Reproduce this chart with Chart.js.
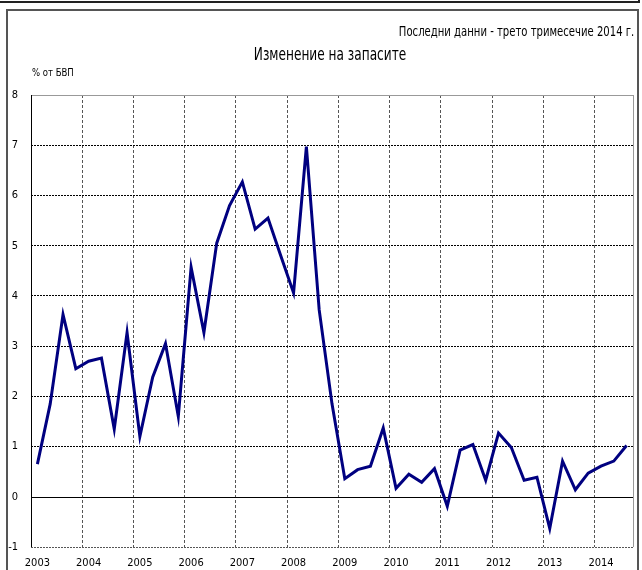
<!DOCTYPE html>
<html lang="bg">
<head>
<meta charset="UTF-8">
<title>Изменение на запасите</title>
<script src="https://cdn.jsdelivr.net/npm/chart.js"></script>
<style>
  body { margin: 0; background: #fff; font-family: "Liberation Sans Narrow", "DejaVu Sans Condensed", sans-serif; }
  .page { position: relative; width: 642px; height: 570px; overflow: hidden; }
  .topline { position: absolute; left: 0; top: 0; width: 638px; height: 1px; border-bottom: 2px solid #222; border-right: 2px solid #222; }
  .frame { position: absolute; left: 6px; top: 9px; width: 629px; height: 600px; border: 2px solid #555; border-bottom: none; }
  .note { position: absolute; right: 8px; top: 23px; font-size: 14px; color: #000; transform: scaleX(0.8); transform-origin: right center; white-space: nowrap; }
  .title { position: absolute; left: 0; width: 660px; top: 43px; text-align: center; font-size: 18px; color: #000; transform: scaleX(0.75); transform-origin: 330px center; }
  .unit { position: absolute; left: 32px; top: 66px; font-size: 11px; color: #000; transform: scaleX(0.86); transform-origin: left center; }
  .wrap { position: absolute; left: 0; top: 0; width: 642px; height: 570px; }
</style>
</head>
<body>
<div class="page">
  <div class="topline"></div>
  <div class="frame"></div>
  <div class="wrap"><canvas id="myChart"></canvas></div>
  <div class="note">Последни данни - трето тримесечие 2014 г.</div>
  <div class="title">Изменение на запасите</div>
  <div class="unit">% от БВП</div>
</div>

<script>
  // тримесечия 2003 Q1 - 2014 Q3
  var years = ["2003", "2004", "2005", "2006", "2007", "2008", "2009", "2010", "2011", "2012", "2013", "2014"];
  var quarters = ["I", "II", "III", "IV"];
  var values = [
    0.65, 1.85, 3.63, 2.55,
    2.70, 2.76, 1.35, 3.27,
    1.20, 2.38, 3.05, 1.60,
    4.57, 3.27, 5.05, 5.80,
    6.27, 5.33, 5.55, 4.80,
    4.06, 6.97, 3.72, 1.85,
    0.36, 0.54, 0.61, 1.37,
    0.17, 0.45, 0.29, 0.56,
    -0.19, 0.93, 1.04, 0.33,
    1.27, 0.98, 0.33, 0.39,
    -0.63, 0.71, 0.14, 0.47,
    0.61, 0.71, 1.02
  ];
  var yMin = -1, yMax = 8;

  var labels = [];
  for (var i = 0; i < values.length; i++) {
    labels.push(years[Math.floor(i / 4)] + " " + quarters[i % 4]);
  }

  var tickFont = { family: "'Liberation Sans Narrow', 'DejaVu Sans Condensed', sans-serif", size: 11 };

  // рамка, нулева линия и оси
  var framePlugin = {
    id: "frame",
    beforeDatasetsDraw: function (chart) {
      var ctx = chart.ctx, a = chart.chartArea, y = chart.scales.y;
      ctx.save();
      ctx.lineWidth = 1;
      ctx.strokeStyle = "#999";
      ctx.beginPath();
      ctx.moveTo(a.left, Math.round(a.top) + 0.5);
      ctx.lineTo(a.right, Math.round(a.top) + 0.5);
      ctx.moveTo(Math.round(a.right) + 0.5, a.top);
      ctx.lineTo(Math.round(a.right) + 0.5, a.bottom);
      ctx.stroke();
      ctx.strokeStyle = "#000";
      var z = Math.round(y.getPixelForValue(0)) + 0.5;
      ctx.beginPath();
      ctx.moveTo(a.left, z);
      ctx.lineTo(a.right, z);
      ctx.moveTo(Math.round(a.left) + 0.5, a.top);
      ctx.lineTo(Math.round(a.left) + 0.5, a.bottom);
      ctx.stroke();
      ctx.restore();
    }
  };

  new Chart(document.getElementById("myChart"), {
    type: "line",
    data: {
      labels: labels,
      datasets: [{
        label: "Изменение на запасите",
        data: values,
        borderColor: "#000080",
        borderWidth: 3,
        pointRadius: 0,
        tension: 0,
        fill: false
      }]
    },
    options: {
      responsive: true,
      maintainAspectRatio: false,
      animation: false,
      layout: { padding: { top: 95, right: 9, left: 0, bottom: 0 } },
      plugins: { legend: { display: false }, tooltip: { enabled: false } },
      scales: {
        x: {
          type: "category",
          offset: true,
          afterFit: function (s) { s.height = 23; },
          grid: {
            offset: true,
            drawTicks: false,
            color: function (c) {
              var i = c.index;
              return (i % 4 === 0 && i > 0 && i < values.length) ? "#555" : "rgba(0,0,0,0)";
            },
            lineWidth: 1
          },
          border: { display: false, dash: [3, 2] },
          ticks: {
            autoSkip: false,
            maxRotation: 0,
            padding: 10,
            color: "#000",
            font: tickFont,
            callback: function (v, i) { return i % 4 === 0 ? years[i / 4] : ""; }
          }
        },
        y: {
          min: yMin,
          max: yMax,
          afterFit: function (s) { s.width = 31; },
          grid: {
            drawTicks: false,
            color: function (c) {
              if (c.tick && (c.tick.value === 0 || c.tick.value === yMax)) return "rgba(0,0,0,0)";
              if (c.tick && c.tick.value === yMin) return "#555";
              return "#000";
            },
            lineWidth: 1
          },
          border: { display: false, dash: [2, 1] },
          ticks: {
            stepSize: 1,
            padding: 13,
            color: "#000",
            font: tickFont
          }
        }
      }
    },
    plugins: [framePlugin]
  });
</script>
</body>
</html>
